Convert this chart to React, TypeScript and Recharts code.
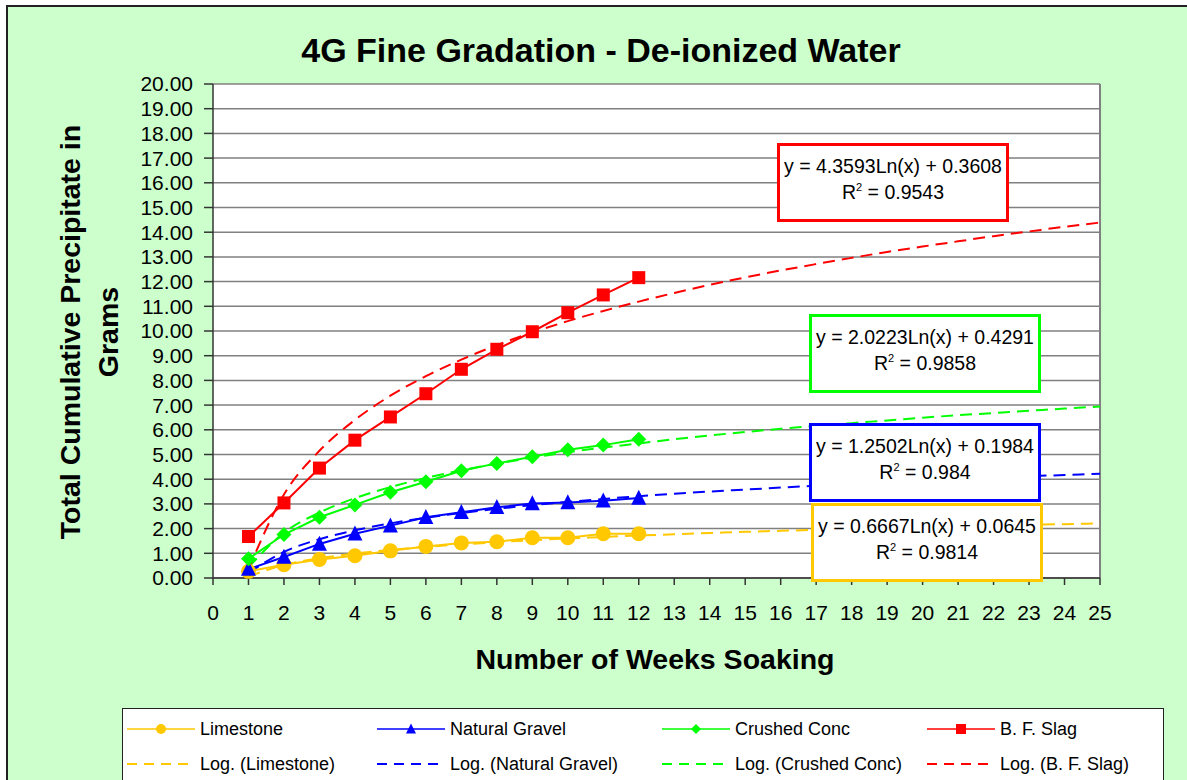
import React from "react";
import { LineChart, Line, XAxis, YAxis, CartesianGrid, ReferenceLine } from "recharts";

const FONT = '"Liberation Sans", Arial, sans-serif';

// measured weeks
const weeks = [1, 2, 3, 4, 5, 6, 7, 8, 9, 10, 11, 12];
const limestone = [0.27, 0.54, 0.75, 0.9, 1.1, 1.28, 1.42, 1.47, 1.63, 1.63, 1.79, 1.79];
const naturalGravel = [0.36, 0.85, 1.38, 1.79, 2.12, 2.46, 2.66, 2.86, 3.02, 3.06, 3.13, 3.24];
const crushedConc = [0.78, 1.76, 2.46, 2.96, 3.47, 3.9, 4.34, 4.64, 4.91, 5.19, 5.38, 5.62];
const bfSlag = [1.68, 3.04, 4.45, 5.58, 6.52, 7.46, 8.45, 9.26, 9.97, 10.74, 11.46, 12.16];

// log trendlines, read at each week
const trendWeeks = [1, 2, 3, 4, 5, 6, 7, 8, 9, 10, 11, 12, 13, 14, 15, 16, 17, 18, 19, 20, 21, 22, 23, 24, 25];
const logLimestone = [0.06, 0.53, 0.8, 0.99, 1.14, 1.26, 1.36, 1.45, 1.53, 1.6, 1.66, 1.72, 1.77, 1.82, 1.87, 1.91, 1.95, 1.99, 2.03, 2.06, 2.09, 2.13, 2.15, 2.18, 2.21];
const logNaturalGravel = [0.2, 1.06, 1.57, 1.93, 2.21, 2.44, 2.63, 2.8, 2.95, 3.08, 3.2, 3.31, 3.41, 3.5, 3.58, 3.66, 3.74, 3.81, 3.88, 3.94, 4.0, 4.06, 4.12, 4.17, 4.22];
const logCrushedConc = [0.43, 1.83, 2.65, 3.23, 3.68, 4.05, 4.36, 4.63, 4.87, 5.09, 5.28, 5.45, 5.62, 5.77, 5.91, 6.04, 6.16, 6.27, 6.38, 6.49, 6.59, 6.68, 6.77, 6.86, 6.94];
const logBfSlag = [0.36, 3.38, 5.15, 6.4, 7.38, 8.17, 8.84, 9.43, 9.94, 10.4, 10.81, 11.19, 11.54, 11.87, 12.17, 12.45, 12.71, 12.96, 13.2, 13.42, 13.63, 13.84, 14.03, 14.22, 14.39];

const xTicks = [0, 1, 2, 3, 4, 5, 6, 7, 8, 9, 10, 11, 12, 13, 14, 15, 16, 17, 18, 19, 20, 21, 22, 23, 24, 25];
const yTicks = [0, 1, 2, 3, 4, 5, 6, 7, 8, 9, 10, 11, 12, 13, 14, 15, 16, 17, 18, 19, 20];

const equations = [
  { eq: "y = 4.3593Ln(x) + 0.3608", r2: "0.9543", color: "#FF0000", left: 777, top: 143 },
  { eq: "y = 2.0223Ln(x) + 0.4291", r2: "0.9858", color: "#00FF00", left: 809, top: 314 },
  { eq: "y = 1.2502Ln(x) + 0.1984", r2: "0.984", color: "#0000FF", left: 809, top: 423 },
  { eq: "y = 0.6667Ln(x) + 0.0645", r2: "0.9814", color: "#FFC800", left: 811, top: 503 },
];

type Shape = "circle" | "triangle" | "diamond" | "square";

const series: { name: string; values: number[]; trend: number[]; color: string; shape: Shape }[] = [
  { name: "Limestone", values: limestone, trend: logLimestone, color: "#FFC800", shape: "circle" },
  { name: "Natural Gravel", values: naturalGravel, trend: logNaturalGravel, color: "#0000FF", shape: "triangle" },
  { name: "Crushed Conc", values: crushedConc, trend: logCrushedConc, color: "#00FF00", shape: "diamond" },
  { name: "B. F. Slag", values: bfSlag, trend: logBfSlag, color: "#FF0000", shape: "square" },
];

function marker(shape: Shape, color: string, cx: number, cy: number, s: number, key?: React.Key) {
  if (shape === "circle") return <circle key={key} cx={cx} cy={cy} r={s} fill={color} />;
  if (shape === "square") return <rect key={key} x={cx - s} y={cy - s} width={2 * s} height={2 * s} fill={color} />;
  if (shape === "diamond")
    return <polygon key={key} points={`${cx},${cy - s} ${cx + s},${cy} ${cx},${cy + s} ${cx - s},${cy}`} fill={color} />;
  return (
    <polygon key={key} points={`${cx},${cy - s * 1.1} ${cx + s},${cy + s * 0.9} ${cx - s},${cy + s * 0.9}`} fill={color} />
  );
}

const dotFor = (shape: Shape, color: string) => (p: any) => {
  if (p.cx == null || p.cy == null) return <g key={p.index} />;
  const size = shape === "square" ? 6.5 : 7.5;
  return marker(shape, color, p.cx, p.cy, size, p.index);
};

const legendCols = [127, 377, 662, 927];

export default function App() {
  return (
    <div style={{ position: "absolute", left: 0, top: 0, width: 1187, height: 780, overflow: "hidden", fontFamily: FONT }}>
      <div
        style={{
          position: "absolute",
          left: 6,
          top: 5,
          width: 1200,
          height: 800,
          background: "#CCFFCC",
          border: "2px solid #222",
        }}
      />
      <div
        style={{
          position: "absolute",
          left: 0,
          width: 1202,
          top: 30,
          textAlign: "center",
          fontSize: 34,
          lineHeight: "40px",
          fontWeight: "bold",
          color: "#000",
        }}
      >
        4G Fine Gradation - De-ionized Water
      </div>
      <div
        style={{
          position: "absolute",
          left: 89,
          top: 332,
          transform: "translate(-50%, -50%) rotate(-90deg)",
          whiteSpace: "nowrap",
          textAlign: "center",
          fontSize: 28.5,
          fontWeight: "bold",
          lineHeight: "38px",
          color: "#000",
        }}
      >
        Total Cumulative Precipitate in
        <br />
        Grams
      </div>
      <div
        style={{
          position: "absolute",
          left: 405,
          width: 500,
          top: 642,
          textAlign: "center",
          fontSize: 28.5,
          lineHeight: "34px",
          fontWeight: "bold",
          color: "#000",
        }}
      >
        Number of Weeks Soaking
      </div>

      <div style={{ position: "absolute", left: 0, top: 0 }}>
        <LineChart width={1187} height={700} margin={{ top: 84, right: 87, left: 0, bottom: 82 }}>
          <CartesianGrid vertical={false} stroke="#808080" strokeWidth={1.5} fill="#fff" fillOpacity={1} />
          <XAxis
            type="number"
            dataKey="x"
            domain={[0, 25]}
            ticks={xTicks}
            interval={0}
            height={40}
            tickSize={7}
            tickMargin={20}
            stroke="#333"
            strokeWidth={1.5}
            tick={{ fill: "#000", fontSize: 21, fontFamily: FONT }}
          />
          <YAxis
            type="number"
            domain={[0, 20]}
            ticks={yTicks}
            interval={0}
            width={213}
            tickSize={9}
            tickMargin={11}
            stroke="#333"
            strokeWidth={1.5}
            tickFormatter={(v: number) => v.toFixed(2)}
            tick={{ fill: "#000", fontSize: 21, fontFamily: FONT }}
          />
          <ReferenceLine x={25} stroke="#808080" strokeWidth={2} />
          {series.map((s) => (
            <Line
              key={"log-" + s.name}
              data={trendWeeks.map((x, i) => ({ x, y: s.trend[i] }))}
              dataKey="y"
              type="monotone"
              stroke={s.color}
              strokeWidth={2}
              strokeDasharray="12 7"
              dot={false}
              activeDot={false}
              isAnimationActive={false}
            />
          ))}
          {series.map((s) => (
            <Line
              key={s.name}
              data={weeks.map((x, i) => ({ x, y: s.values[i] }))}
              dataKey="y"
              type="linear"
              stroke={s.color}
              strokeWidth={2}
              dot={dotFor(s.shape, s.color)}
              activeDot={false}
              isAnimationActive={false}
            />
          ))}
        </LineChart>
      </div>

      {equations.map((e) => (
        <div
          key={e.eq}
          style={{
            position: "absolute",
            left: e.left,
            top: e.top,
            width: 226,
            height: 66,
            border: `3px solid ${e.color}`,
            background: "#fff",
            textAlign: "center",
            fontSize: 19.5,
            lineHeight: "26px",
            paddingTop: 7,
            boxSizing: "content-box",
            color: "#000",
            whiteSpace: "nowrap",
          }}
        >
          <div>{e.eq}</div>
          <div>
            R<sup style={{ fontSize: 11, verticalAlign: "8px", lineHeight: 0 }}>2</sup> = {e.r2}
          </div>
        </div>
      ))}

      <div
        style={{
          position: "absolute",
          left: 122,
          top: 708,
          width: 1040,
          height: 100,
          background: "#fff",
          border: "1px solid #222",
        }}
      />
      {series.map((s, i) => (
        <React.Fragment key={"leg-" + s.name}>
          <svg style={{ position: "absolute", left: legendCols[i], top: 719 }} width={70} height={20}>
            <line x1={0} y1={10} x2={68} y2={10} stroke={s.color} strokeWidth={1.5} />
            {marker(s.shape, s.color, 34, 10, 5)}
          </svg>
          <div style={{ position: "absolute", left: legendCols[i] + 73, top: 718, fontSize: 18, lineHeight: "22px", whiteSpace: "nowrap" }}>
            {s.name}
          </div>
          <svg style={{ position: "absolute", left: legendCols[i], top: 754 }} width={70} height={20}>
            <line x1={0} y1={10} x2={68} y2={10} stroke={s.color} strokeWidth={2} strokeDasharray="10 7" />
          </svg>
          <div style={{ position: "absolute", left: legendCols[i] + 73, top: 753, fontSize: 18, lineHeight: "22px", whiteSpace: "nowrap" }}>
            {"Log. (" + s.name + ")"}
          </div>
        </React.Fragment>
      ))}
    </div>
  );
}
